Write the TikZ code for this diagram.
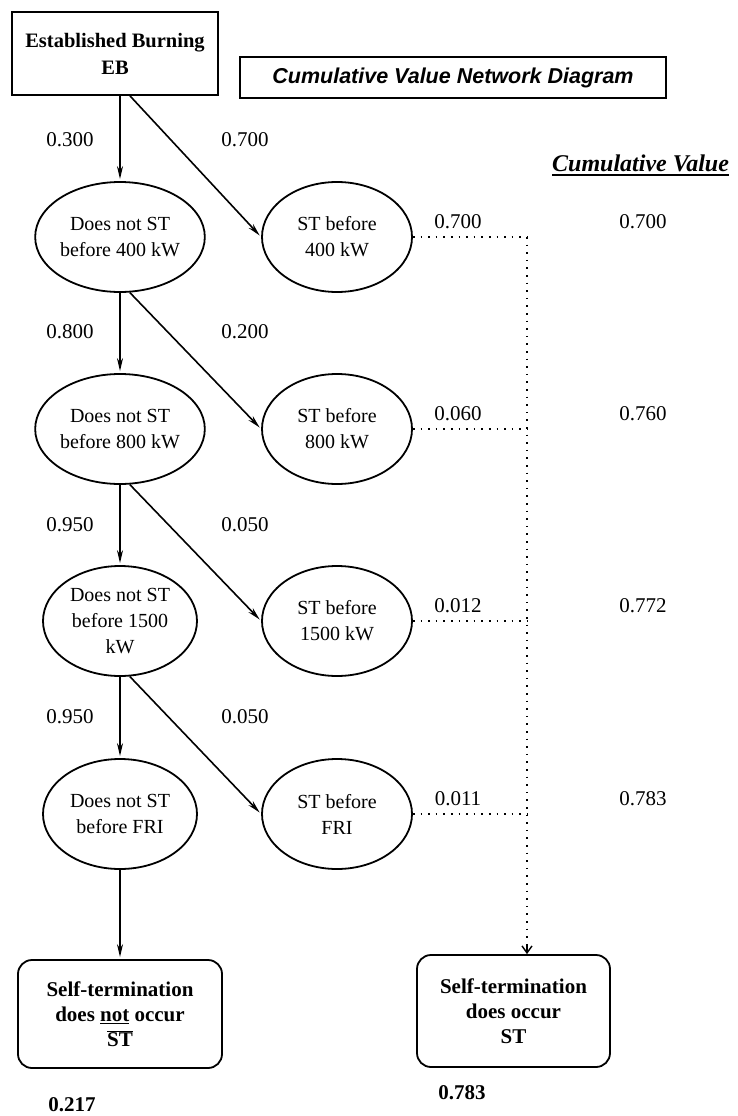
\documentclass[tikz,border=0pt]{standalone}
\usepackage{fontspec}
\setmainfont{Liberation Serif}
\newfontfamily\titlefont{Liberation Sans}
\usetikzlibrary{arrows.meta,shapes.geometric,calc}
\begin{document}
\begin{tikzpicture}[x=1pt,y=-1pt,
  every node/.style={font=\fontsize{20}{26}\selectfont},
  oval/.style={draw,line width=1.8pt,ellipse,minimum width=154pt,minimum height=110pt,inner sep=0pt,align=center},
  sqbox/.style={draw,line width=1.8pt,rectangle,inner sep=0pt,align=center,font=\fontsize{20.5}{27}\selectfont\bfseries},
  rbox/.style={draw,line width=1.8pt,rectangle,rounded corners=14pt,inner sep=0pt,align=center,font=\fontsize{21}{25}\selectfont\bfseries},
  arr/.style={line width=1.6pt,-{Stealth[length=13pt,width=6pt]},shorten >=2pt},
  dotl/.style={line width=1.6pt,dash pattern=on 1.6pt off 6pt},
  lbl/.style={inner sep=0pt,font=\fontsize{21}{24}\selectfont},
]
\useasboundingbox (0,0) rectangle (737,1116);

% top boxes
\node[sqbox,minimum width=206pt,minimum height=83pt] (eb) at (115,53.5) {Established Burning\\EB};
\node[draw,line width=1.6pt,minimum width=426pt,minimum height=41pt,inner sep=0pt,
      font=\fontsize{21.5}{24}\selectfont\titlefont\bfseries\itshape] (title) at (453,77.5) {Cumulative Value Network Diagram};

% header
\node[inner sep=0pt,font=\fontsize{24}{28}\selectfont\bfseries\itshape,anchor=west] (cv) at (552,163) {Cumulative Value};
\draw[line width=2.2pt] ([yshift=-4pt]cv.base west) -- ([yshift=-4pt]cv.base east);

% left column
\node[oval] (n1) at (120,237) {Does not ST\\before 400 kW};
\node[oval] (n2) at (120,429) {Does not ST\\before 800 kW};
\node[oval] (n3) at (120,621) {Does not ST\\before 1500\\kW};
\node[oval] (n4) at (120,814) {Does not ST\\before FRI};

% right column
\node[oval,minimum width=150pt] (s1) at (337,237) {ST before\\400 kW};
\node[oval,minimum width=150pt] (s2) at (337,429) {ST before\\800 kW};
\node[oval,minimum width=150pt] (s3) at (337,621) {ST before\\1500 kW};
\node[oval,minimum width=150pt] (s4) at (337,814) {ST before\\FRI};

% bottom boxes
\node[rbox,minimum width=204pt,minimum height=108pt] (bl) at (120,1014) {Self-termination\\does \underline{not} occur\\$\overline{\mbox{\bfseries ST}}$};
\node[rbox,minimum width=193pt,minimum height=112pt] (br) at (513.5,1011) {Self-termination\\does occur\\ST};

% branch labels
\node[lbl] (p1a) at (70,140) {0.300};
\node[lbl] (p1b) at (245,140) {0.700};
\node[lbl] (p2a) at (70,332) {0.800};
\node[lbl] (p2b) at (245,332) {0.200};
\node[lbl] (p3a) at (70,525) {0.950};
\node[lbl] (p3b) at (245,525) {0.050};
\node[lbl] (p4a) at (70,717) {0.950};
\node[lbl] (p4b) at (245,717) {0.050};

% values
\node[lbl] (v1) at (458,222) {0.700};
\node[lbl] (v2) at (458,414) {0.060};
\node[lbl] (v3) at (458,606) {0.012};
\node[lbl] (v4) at (458,799) {0.011};
\node[lbl] (k1) at (643,222) {0.700};
\node[lbl] (k2) at (643,414) {0.760};
\node[lbl] (k3) at (643,606) {0.772};
\node[lbl] (k4) at (643,799) {0.783};

% final values
\node[lbl,font=\fontsize{21}{24}\selectfont\bfseries] (fl) at (72,1105) {0.217};
\node[lbl,font=\fontsize{21}{24}\selectfont\bfseries] (fr) at (462,1093) {0.783};

% connectors
\draw[arr] (eb.south -| n1.center) -- (n1.north);
\draw[arr] ($(eb.south)+(15,0)$) -- (s1.west);
\draw[arr] (n1.south) -- (n2.north);
\draw[arr] (n1.-80) -- (s2.west);
\draw[arr] (n2.south) -- (n3.north);
\draw[arr] (n2.-80) -- (s3.west);
\draw[arr] (n3.south) -- (n4.north);
\draw[arr] (n3.-80) -- (s4.west);
\draw[arr] (n4.south) -- (bl.north);

% dotted connectors
\coordinate (c1) at (527,237);
\coordinate (c2) at (527,429);
\coordinate (c3) at (527,621);
\coordinate (c4) at (527,814);
\draw[dotl] (s1.east) -- (c1);
\draw[dotl] (s2.east) -- (c2);
\draw[dotl] (s3.east) -- (c3);
\draw[dotl] (s4.east) -- (c4);
\draw[dotl] (c1) -- ($(br.north -| c1)+(0,-10)$);
\draw[line width=1.4pt,-{Straight Barb[length=7pt,width=10pt]}] ($(br.north -| c1)+(0,-10)$) -- (br.north -| c1);
\end{tikzpicture}
\end{document}
